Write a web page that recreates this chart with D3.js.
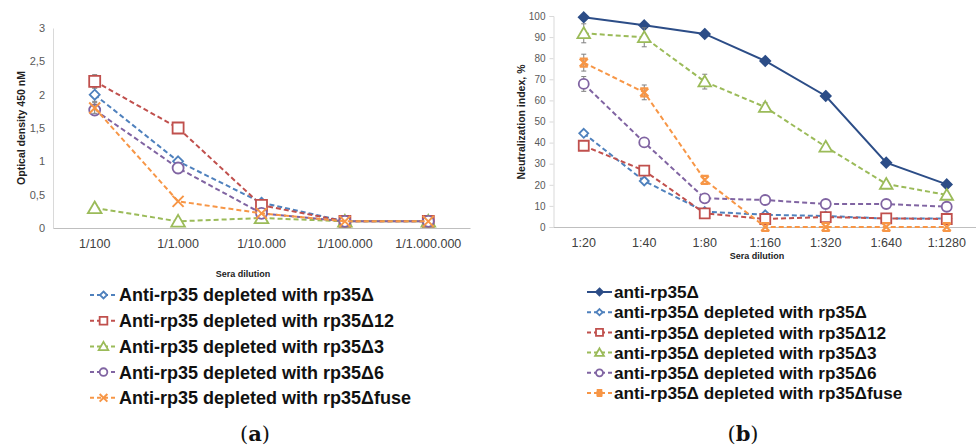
<!DOCTYPE html>
<html>
<head>
<meta charset="utf-8">
<script src="https://cdn.jsdelivr.net/npm/d3@7"></script>
<style>
  body { margin: 0; background: #fff; }
  svg { font-family: "Liberation Sans", Arial, sans-serif; }
</style>
</head>
<body>
<script>
// ---- panel (a) data
const catsA = ["1/100", "1/1.000", "1/10.000", "1/100.000", "1/1.000.000"];
const ticksA = [0, 0.5, 1, 1.5, 2, 2.5, 3];
const aDelta = [2.0, 1.0, 0.38, 0.1, 0.1];
const aDelta12 = [2.2, 1.5, 0.34, 0.1, 0.1];
const aDelta3 = [0.3, 0.1, 0.15, 0.1, 0.1];
const aDelta6 = [1.77, 0.9, 0.22, 0.1, 0.1];
const aFuse = [1.8, 0.4, 0.22, 0.1, 0.1];
const aErrDelta = [0.1, 0, 0, 0, 0];
const aErrDelta12 = [0.1, 0, 0, 0, 0];
const aErrFuse = [0.08, 0, 0, 0, 0];
const namesA = ["Anti-rp35 depleted with rp35Δ", "Anti-rp35 depleted with rp35Δ12",
  "Anti-rp35 depleted with rp35Δ3", "Anti-rp35 depleted with rp35Δ6", "Anti-rp35 depleted with rp35Δfuse"];

// ---- panel (b) data
const catsB = ["1:20", "1:40", "1:80", "1:160", "1:320", "1:640", "1:1280"];
const ticksB = [0, 10, 20, 30, 40, 50, 60, 70, 80, 90, 100];
const bAnti = [99.4, 95.6, 91.5, 78.7, 62.1, 30.5, 20.2];
const bDelta = [44.4, 21.8, 7.3, 5.8, 5.2, 4.0, 4.0];
const bDelta12 = [38.5, 26.7, 6.5, 3.8, 4.7, 4.1, 3.8];
const bDelta3 = [91.8, 89.9, 68.9, 56.8, 38.0, 20.4, 15.2];
const bDelta6 = [67.8, 40.1, 13.6, 12.8, 10.9, 10.9, 9.6];
const bFuse = [77.9, 63.8, 22.3, 0, 0, 0, 0];
const bErrDelta3 = [4.5, 4.5, 3.5, 2, 0, 0, 0];
const bErrFuse = [4, 3.5, 0, 0, 0, 0, 0];
const bErrDelta6 = [3.5, 0, 0, 0, 0, 0, 0];
const namesB = ["anti-rp35Δ", "anti-rp35Δ depleted with rp35Δ", "anti-rp35Δ depleted with rp35Δ12",
  "anti-rp35Δ depleted with rp35Δ3", "anti-rp35Δ depleted with rp35Δ6", "anti-rp35Δ depleted with rp35Δfuse"];

const blue = "#4f81bd", red = "#c0504d", green = "#9bbb59", purple = "#8064a2", orange = "#f79646", navy = "#2c4d87";

const seriesA = [
  { name: namesA[0], values: aDelta, err: aErrDelta, color: blue, marker: "diamond", s: 5 },
  { name: namesA[1], values: aDelta12, err: aErrDelta12, color: red, marker: "square", s: 5.5 },
  { name: namesA[2], values: aDelta3, err: null, color: green, marker: "triangle", s: 6.5 },
  { name: namesA[3], values: aDelta6, err: null, color: purple, marker: "circle", s: 5.5 },
  { name: namesA[4], values: aFuse, err: aErrFuse, color: orange, marker: "x", s: 5.5 }
];
const seriesB = [
  { name: namesB[0], values: bAnti, err: null, color: navy, marker: "fdiamond", s: 5, solid: true },
  { name: namesB[1], values: bDelta, err: null, color: blue, marker: "diamond", s: 4.5 },
  { name: namesB[2], values: bDelta12, err: null, color: red, marker: "square", s: 5 },
  { name: namesB[3], values: bDelta3, err: bErrDelta3, color: green, marker: "triangle", s: 6 },
  { name: namesB[4], values: bDelta6, err: bErrDelta6, color: purple, marker: "circle", s: 5 },
  { name: namesB[5], values: bFuse, err: bErrFuse, color: orange, marker: "star", s: 4 }
];

const svg = d3.select("body").append("svg").attr("width", 976).attr("height", 445);

function drawMarker(g, type, s, color) {
  let p;
  if (type === "circle") {
    p = g.append("circle").attr("r", s);
  } else {
    let d;
    if (type === "diamond" || type === "fdiamond") d = `M0,${-s}L${s},0L0,${s}L${-s},0Z`;
    if (type === "square") d = `M${-s},${-s}H${s}V${s}H${-s}Z`;
    if (type === "triangle") d = `M0,${-s}L${s * 1.05},${s * 0.8}L${-s * 1.05},${s * 0.8}Z`;
    if (type === "x") d = `M${-s},${-s}L${s},${s}M${s},${-s}L${-s},${s}`;
    if (type === "star") d = `M${-s},${-s}L${s},${s}M${s},${-s}L${-s},${s}M${-s},${-s}H${s}M${-s},${s}H${s}`;
    p = g.append("path").attr("d", d);
  }
  p.attr("fill", type === "fdiamond" ? color : (type === "x" || type === "star" ? "none" : "#fff"))
    .attr("stroke", color)
    .attr("stroke-width", type === "x" ? 2 : (type === "star" ? 2.2 : 1.8));
}

function panel(cfg) {
  const x = d3.scaleBand().domain(cfg.cats).range(cfg.xr);
  const y = d3.scaleLinear().domain(cfg.yd).range(cfg.yr);
  const g = svg.append("g");

  // axes
  const ya = g.append("g").attr("transform", `translate(${cfg.xr[0]},0)`)
    .call(d3.axisLeft(y).tickValues(cfg.ticks).tickFormat(cfg.fmt).tickSizeOuter(0).tickSize(cfg.tick).tickPadding(cfg.pad));
  ya.select(".domain").attr("stroke", "#d9d9d9");
  ya.selectAll(".tick line").attr("stroke", "#d9d9d9");
  ya.selectAll("text").attr("fill", "#595959").style("font-size", cfg.yfs + "px");

  const xa = g.append("g").attr("transform", `translate(0,${cfg.yr[0]})`)
    .call(d3.axisBottom(x).tickSize(0).tickPadding(cfg.xpad));
  xa.select(".domain").attr("stroke", "#bfbfbf").attr("stroke-width", 1.2);
  xa.selectAll("text").attr("fill", "#404040").style("font-size", "12.5px");

  g.append("text").attr("transform", `translate(${cfg.ytx},${cfg.yty}) rotate(-90)`)
    .attr("text-anchor", "middle").attr("font-weight", "bold").attr("font-size", 10.5)
    .attr("fill", "#222").text(cfg.ytitle);
  g.append("text").attr("x", cfg.xtx).attr("y", cfg.xty).attr("text-anchor", "middle")
    .attr("font-weight", "bold").attr("font-size", 9).attr("fill", "#222").text("Sera dilution");

  const cx = c => x(c) + x.bandwidth() / 2;
  const line = d3.line().x((d, i) => cx(cfg.cats[i])).y(d => y(d));

  cfg.series.forEach(s => {
    const sg = g.append("g");
    if (s.err) {
      s.values.forEach((v, i) => {
        if (!s.err[i]) return;
        const px = cx(cfg.cats[i]);
        sg.append("path")
          .attr("d", `M${px},${y(v + s.err[i])}V${y(v - s.err[i])}M${px - 2.5},${y(v + s.err[i])}H${px + 2.5}M${px - 2.5},${y(v - s.err[i])}H${px + 2.5}`)
          .attr("stroke", "#7f7f7f").attr("stroke-width", 1).attr("fill", "none");
      });
    }
    sg.append("path").attr("d", line(s.values)).attr("fill", "none")
      .attr("stroke", s.color).attr("stroke-width", 2)
      .attr("stroke-dasharray", s.solid ? null : "5,3");
    s.values.forEach((v, i) => {
      const mg = sg.append("g").attr("transform", `translate(${cx(cfg.cats[i])},${y(v)})`);
      drawMarker(mg, s.marker, s.s, s.color);
    });
  });

  // legend
  const lg = g.append("g");
  cfg.series.forEach((s, i) => {
    const row = lg.append("g").attr("transform", `translate(${cfg.lx},${cfg.ly + i * cfg.lstep})`);
    row.append("line").attr("x1", 0).attr("x2", cfg.lw).attr("stroke", s.color).attr("stroke-width", 2)
      .attr("stroke-dasharray", s.solid ? null : "4,3");
    const mg = row.append("g").attr("transform", `translate(${cfg.lw / 2},0)`);
    drawMarker(mg, s.marker, s.s * 0.7, s.color);
    row.append("text").attr("x", cfg.lw + 2).attr("dy", "0.36em").attr("font-weight", "bold")
      .attr("font-size", cfg.lfs).attr("fill", "#111").text(s.name);
  });

  const lab = svg.append("text").attr("x", cfg.labx).attr("y", 441).attr("text-anchor", "middle")
    .attr("font-family", "'DejaVu Serif', 'Liberation Serif', serif").attr("font-size", 21).attr("fill", "#111");
  lab.append("tspan").text("(");
  lab.append("tspan").attr("font-weight", "bold").text(cfg.letter);
  lab.append("tspan").text(")");
}

panel({
  cats: catsA, xr: [53, 470], yd: [0, 3], yr: [228, 28], ticks: ticksA,
  fmt: d => String(d).replace(".", ","), tick: 0, pad: 8, xpad: 11, yfs: 11,
  ytitle: "Optical density 450 nM", ytx: 25, yty: 128,
  xtx: 243, xty: 277, series: seriesA,
  lx: 90, ly: 295, lstep: 25.7, lw: 27, lfs: 18, labx: 255, letter: "a"
});

panel({
  cats: catsB, xr: [553.5, 977], yd: [0, 100], yr: [227, 16], ticks: ticksB,
  fmt: d => d, tick: 4, pad: 4, xpad: 11, yfs: 10,
  ytitle: "Neutralization index, %", ytx: 525, yty: 122,
  xtx: 757, xty: 259, series: seriesB,
  lx: 587, ly: 292, lstep: 20.2, lw: 25, lfs: 17.2, labx: 743, letter: "b"
});
</script>
</body>
</html>
